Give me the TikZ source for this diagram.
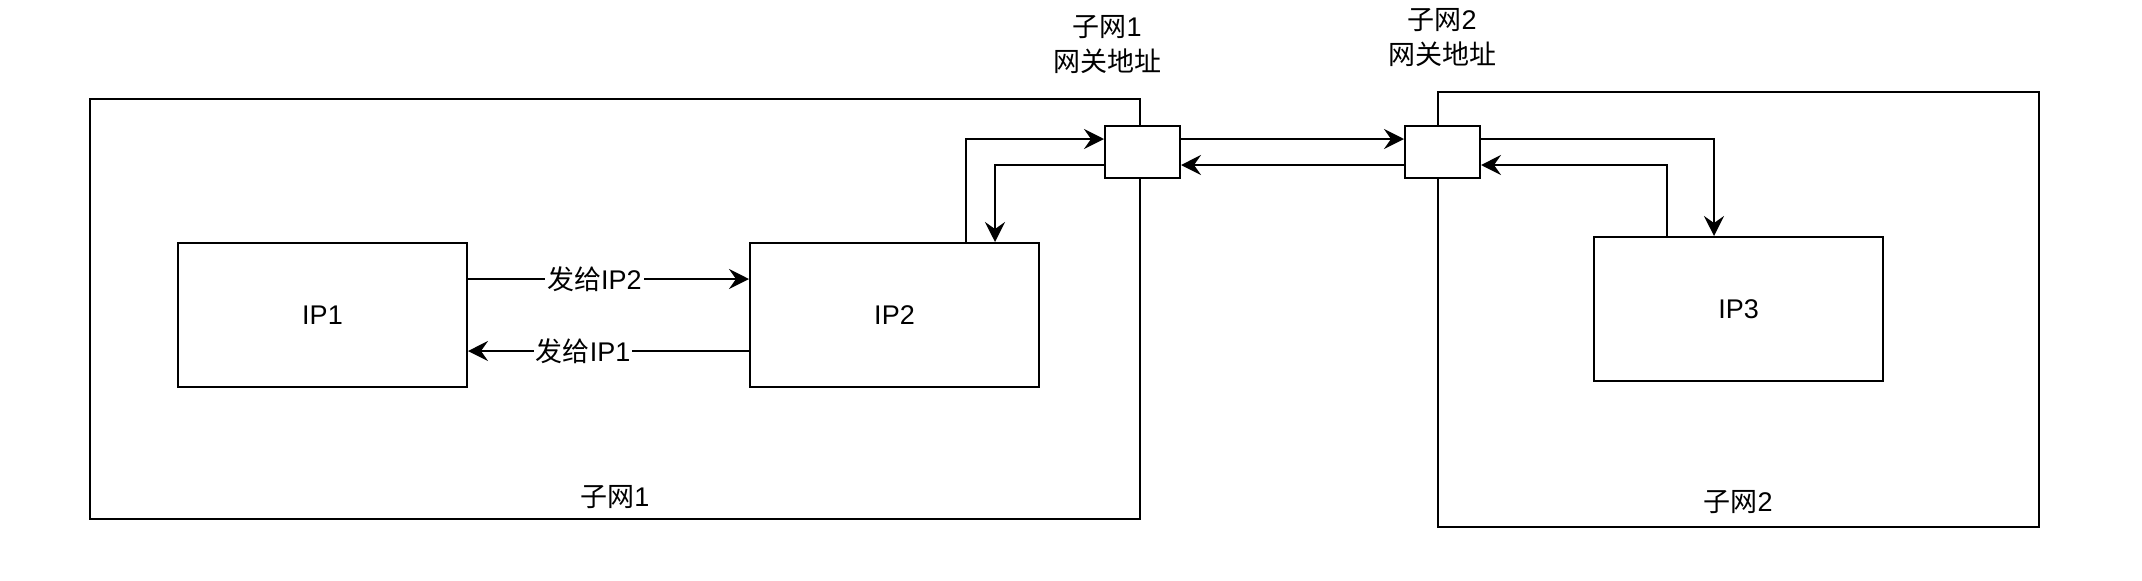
\documentclass[tikz,border=0pt]{standalone}
\usepackage{fontspec}
\setmainfont{Liberation Sans}
\newfontfamily\cjk{Noto Sans CJK SC}
\usetikzlibrary{arrows.meta}

\tikzset{
  box/.style={draw, line width=1pt, fill=white, inner sep=0pt},
  flow/.style={line width=1pt, -{Stealth[length=10pt,width=10pt,inset=3.5pt]}},
  lbl/.style={fill=white, inner sep=1pt},
}

\begin{document}
\begin{tikzpicture}[x=0.5pt, y=-0.5pt, font=\fontsize{13.5pt}{17.5pt}\selectfont]
\useasboundingbox (0,0) rectangle (2142,580);
\node[box, minimum width=525pt, minimum height=210pt] (netA) at (615,309) {}; % subnet 1
\node[box, minimum width=300.5pt, minimum height=217.5pt] (netB) at (1738.5,309.5) {}; % subnet 2
\node[box, minimum width=144.5pt, minimum height=72pt] (ipA) at (322.5,315) {IP1};
\node[box, minimum width=144.5pt, minimum height=72pt] (ipB) at (894.5,315) {IP2};
\node[box, minimum width=144.5pt, minimum height=72pt] (ipC) at (1738.5,309) {IP3};
\node[box, minimum width=37.5pt, minimum height=26pt] (gwA) at (1142.5,152) {}; % gateway 1
\node[box, minimum width=37.5pt, minimum height=26pt] (gwB) at (1442.5,152) {}; % gateway 2
\node (netAname) at (615,497) {{\cjk 子网}1};
\node (netBname) at (1738,502) {{\cjk 子网}2};
\node[align=center] (gwAname) at (1107,45) {{\cjk 子网}1\\{\cjk 网关地址}};
\node[align=center] (gwBname) at (1442,38) {{\cjk 子网}2\\{\cjk 网关地址}};
% inside subnet 1
\draw[flow] ([yshift=18pt]ipA.east) -- node[lbl, pos=0.45] {{\cjk 发给}IP2} ([yshift=18pt]ipB.west);
\draw[flow] ([yshift=-18pt]ipB.west) -- node[lbl, pos=0.59] {{\cjk 发给}IP1} ([yshift=-18pt]ipA.west -| ipA.east);
\draw[flow] ([xshift=35.75pt]ipB.north) |- ([yshift=6.5pt]gwA.west);
\draw[flow] ([yshift=-6.5pt]gwA.west) -| ([xshift=50.25pt]ipB.north);
% between gateways
\draw[flow] ([yshift=6.5pt]gwA.east) -- ([yshift=6.5pt]gwB.west);
\draw[flow] ([yshift=-6.5pt]gwB.west) -- ([yshift=-6.5pt]gwA.east);
% inside subnet 2
\draw[flow] ([yshift=6.5pt]gwB.east) -| ([xshift=-12.25pt]ipC.north);
\draw[flow] ([xshift=-35.75pt]ipC.north) |- ([yshift=-6.5pt]gwB.east);
\end{tikzpicture}
\end{document}
